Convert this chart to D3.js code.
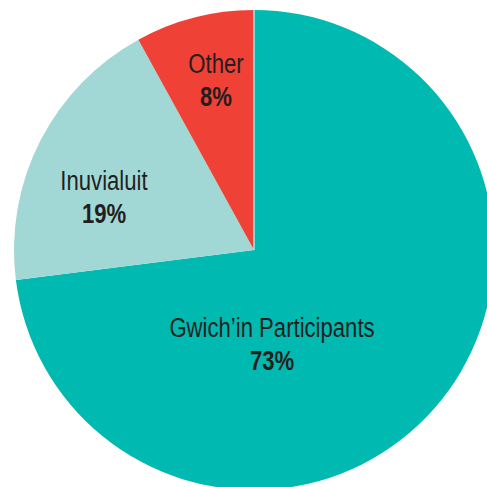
<!DOCTYPE html>
<html><head><meta charset="utf-8">
<script src="https://cdn.jsdelivr.net/npm/d3@7"></script>
<style>html,body{margin:0;padding:0;background:#fff;overflow:hidden}</style>
</head><body><svg id="c" width="487" height="487"></svg>
<script>
const categories = ["Gwich\u2019in Participants", "Inuvialuit", "Other"];
const values = [73, 19, 8];
const valueLabels = ["73%", "19%", "8%"];
const colors = ["#00b9b0", "#a1d8d5", "#ef4136"];

const svg = d3.select("#c");
const cx = 254, cy = 250, R = 240;
const g = svg.append("g").attr("transform", `translate(${cx},${cy})`);
const pie = d3.pie().sort(null).value(d => d)(values);
const arc = d3.arc().innerRadius(0).outerRadius(R);
g.selectAll("path").data(pie).enter().append("path")
  .attr("d", arc).attr("fill", (d,i) => colors[i]);
g.append("line").attr("x1",0).attr("y1",0).attr("x2",0).attr("y2",-R)
  .attr("stroke","#fff").attr("stroke-width",1);

// label placement (offsets from centre)
const labelPos = [[18, 87], [-150, -60], [-38, -177]];
const font = "'Liberation Sans', Arial, sans-serif";
pie.forEach((d,i) => {
  const [x,y] = labelPos[i];
  const lg = g.append("g").attr("transform", `translate(${x},${y}) scale(0.79,1)`);
  lg.append("text").attr("x", 0).attr("y", 0).attr("text-anchor","middle")
    .attr("font-family", font).attr("font-size", 28).attr("fill","#231f20")
    .text(categories[i]);
  lg.append("text").attr("x", 0).attr("y", 33).attr("text-anchor","middle")
    .attr("font-family", font).attr("font-size", 28).attr("font-weight","bold").attr("fill","#231f20")
    .text(valueLabels[i]);
});
</script></body></html>
